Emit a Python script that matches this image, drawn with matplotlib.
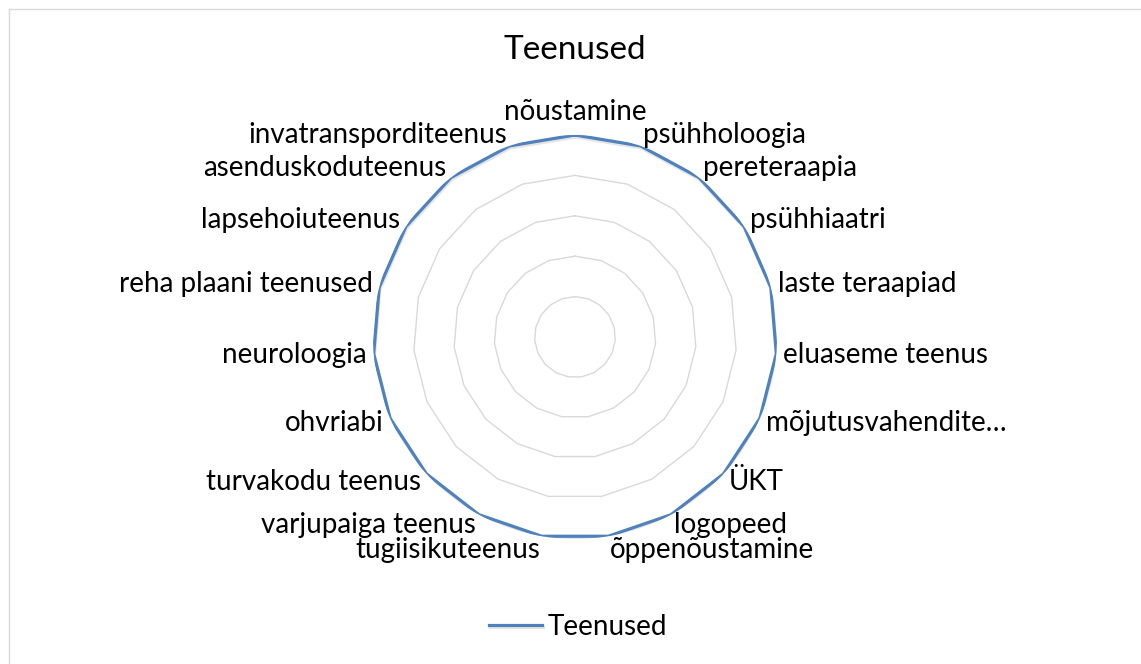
import numpy as np
import matplotlib.pyplot as plt
import matplotlib.patheffects as pe
from matplotlib.patches import Rectangle

plt.rcParams['font.family'] = ['Lato', 'DejaVu Sans']

# andmed
categories = ['nõustamine', 'psühholoogia', 'pereteraapia', 'psühhiaatri', 'laste teraapiad',
              'eluaseme teenus', 'mõjutusvahendite…', 'ÜKT', 'logopeed', 'õppenõustamine',
              'tugiisikuteenus', 'varjupaiga teenus', 'turvakodu teenus', 'ohvriabi',
              'neuroloogia', 'reha plaani teenused', 'lapsehoiuteenus', 'asenduskoduteenus',
              'invatransporditeenus']
values = [1] * len(categories)
rings = [0.2, 0.4, 0.6, 0.8, 1.0]

n = len(categories)
theta = np.arange(n) * 2 * np.pi / n
theta_c = np.append(theta, theta[0])

fig = plt.figure(figsize=(11.41, 6.64), dpi=100)
W, H = 1141, 664
cx, cy, R = 575, 337, 202
ax = fig.add_axes([(cx - R) / W, (H - cy - R) / H, 2 * R / W, 2 * R / H], projection='polar')
ax.set_theta_zero_location('N')
ax.set_theta_direction(-1)
ax.set_ylim(0, 1)
ax.grid(False)
ax.set_xticks([])
ax.set_yticks([])
ax.spines['polar'].set_visible(False)
ax.patch.set_alpha(0)

# võrgujooned
for r in rings:
    ax.plot(theta_c, [r] * (n + 1), color='#D9D9D9', lw=1.0, zorder=1)

# andmejoon
v = values + values[:1]
ax.plot(theta_c, v, color='#4F81BD', lw=2.3, zorder=3, label='Teenused',
        path_effects=[pe.SimpleLineShadow(offset=(0.5, -1.5), shadow_color='#999999', alpha=0.25),
                      pe.Normal()])

# kategooriate sildid
fs = 20
for t, lab, val in zip(theta, categories, values):
    s, c = np.sin(t), np.cos(t)
    if abs(s) < 0.01:
        ax.annotate(lab, xy=(t, val), xytext=(0, 10), textcoords='offset pixels',
                    ha='center', va='bottom', fontsize=fs, color='#000000')
        continue
    ha = 'left' if s > 0 else 'right'
    dy = 12 * c if c > -0.9 else 14 * c
    ax.annotate(lab, xy=(t, val), xytext=(7 * s, dy), textcoords='offset pixels',
                ha=ha, va='center', fontsize=fs, color='#000000')

fig.text(cx / W, 1 - 50 / H, 'Teenused', ha='center', va='center', fontsize=24, color='#000000')

fig.legend(loc='center', bbox_to_anchor=(578 / W, 1 - 627 / H), frameon=False, fontsize=fs,
           handlelength=1.9, handletextpad=0.2)

fig.patches.append(Rectangle((8.5 / W, -0.01), 1.0, 1 - 8.5 / H + 0.01, transform=fig.transFigure,
                             fill=False, edgecolor='#D9D9D9', lw=1.0))

fig.savefig('out.png', dpi=100)
